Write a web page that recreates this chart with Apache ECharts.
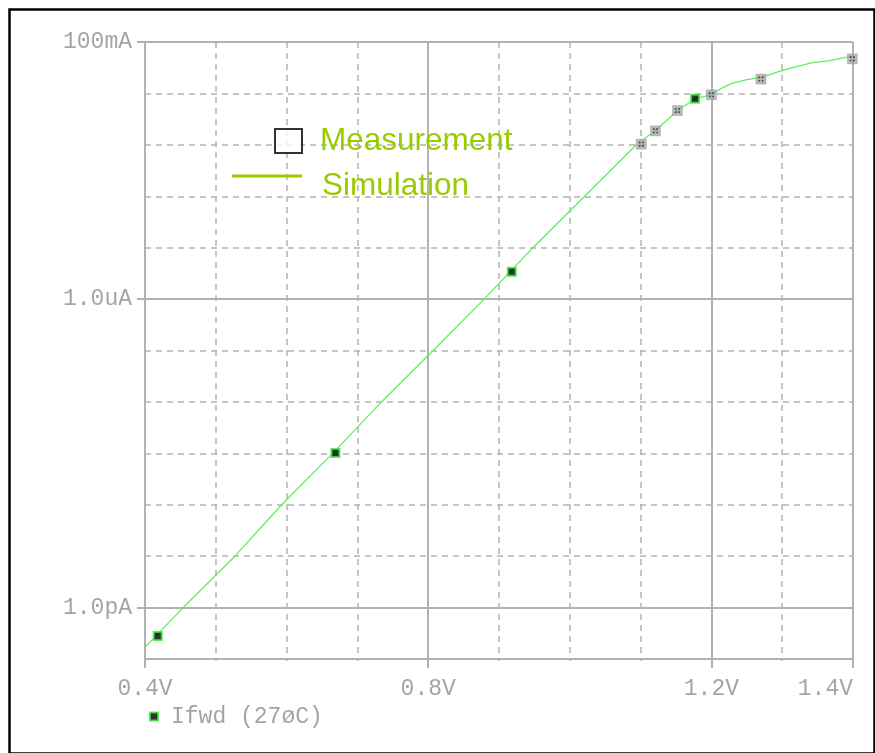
<!DOCTYPE html>
<html>
<head>
<meta charset="utf-8">
<script src="https://cdn.jsdelivr.net/npm/echarts@6/dist/echarts.min.js"></script>
<style>
  html, body { margin: 0; padding: 0; background: #fff; }
  #chart { width: 875px; height: 753px; }
</style>
</head>
<body>
<div id="chart"></div>
<script>
// Forward current of the diode versus forward voltage, current on a log scale.

// Simulated trace (volts, amps)
const simVolts = [0.400, 0.454, 0.527, 0.593, 0.665, 0.734, 0.807, 0.879, 0.948, 1.021,
                  1.094, 1.121, 1.152, 1.177, 1.200, 1.216, 1.228, 1.250, 1.271, 1.297,
                  1.320, 1.343, 1.367, 1.400];
const simAmps  = [1.7e-13, 1e-12, 1e-11, 1e-10, 1e-9, 1e-8, 1e-7, 1e-6, 1e-5, 1e-4,
                  1e-3, 1.9e-3, 4.6e-3, 7.9e-3, 9.4e-3, 1.3e-2, 1.55e-2, 1.85e-2, 2.06e-2, 2.7e-2,
                  3.31e-2, 3.96e-2, 4.34e-2, 5.35e-2];

// Trace markers of Ifwd
const traceVolts = [0.418, 0.669, 0.918, 1.177];
const traceAmps  = [2.8e-13, 1.02e-9, 3.4e-6, 7.9e-3];

// Measured points
const measVolts = [1.101, 1.121, 1.152, 1.200, 1.270, 1.399];
const measAmps  = [1.03e-3, 1.87e-3, 4.65e-3, 9.4e-3, 1.9e-2, 4.7e-2];

// Axis tick labels
const xTickValues = [0.4, 0.8, 1.2, 1.4];
const xTickLabels = ['0.4V', '0.8V', '1.2V', '1.4V'];
const yTickDecades = [-12, -6, -1];
const yTickLabels  = ['1.0pA', '1.0uA', '100mA'];

const traceName = 'Ifwd (27\u00f8C)';

// The current axis is laid out in decades: values are mapped to log10(amps).
const toPoints = (vs, is) => vs.map((v, i) => [v, Math.log10(is[i])]);

const GRID = '#b2b2b2';
const LABEL = '#a4a4a4';
const MONO = '"Liberation Mono", "DejaVu Sans Mono", monospace';
const SANS = '"Liberation Sans", Arial, sans-serif';
const NOTE = '#99cc00';

const chart = echarts.init(document.getElementById('chart'), null, { renderer: 'canvas' });

chart.setOption({
  backgroundColor: '#fff',
  animation: false,
  grid: { left: 145, right: 22, top: 42, bottom: 94, containLabel: false },
  xAxis: [
    {
      type: 'value', min: 0.4, max: 1.4, interval: 0.1, position: 'bottom',
      axisLine: { show: true, onZero: false, lineStyle: { color: GRID, width: 2 } },
      axisTick: { show: true, length: 2, lineStyle: { color: GRID, width: 1.5 } },
      axisLabel: { show: false },
      splitLine: { show: true, lineStyle: { color: GRID, width: 1.5, type: [6, 5] } }
    },
    {
      type: 'value', min: 0.4, max: 1.4, position: 'bottom',
      axisLine: { show: false, onZero: false },
      axisTick: { show: true, length: 9, customValues: xTickValues,
                  lineStyle: { color: GRID, width: 2 } },
      axisLabel: {
        show: true, customValues: xTickValues, margin: 18,
        formatter: v => xTickLabels[xTickValues.findIndex(t => Math.abs(t - v) < 1e-6)] || '',
        color: LABEL, fontFamily: MONO, fontSize: 23, alignMaxLabel: 'right'
      },
      splitLine: { show: true, lineStyle: { color: GRID, width: 2, type: 'solid' } }
    }
  ],
  yAxis: [
    {
      type: 'value', min: -13, max: -1, interval: 1, position: 'left',
      axisLine: { show: true, onZero: false, lineStyle: { color: GRID, width: 2 } },
      axisTick: { show: false },
      axisLabel: { show: false },
      splitLine: { show: true, lineStyle: { color: GRID, width: 1.5, type: [6, 5] } }
    },
    {
      type: 'value', min: -13, max: -1, position: 'left',
      axisLine: { show: false, onZero: false },
      axisTick: { show: true, length: 8, customValues: yTickDecades,
                  lineStyle: { color: GRID, width: 2 } },
      axisLabel: {
        show: true, customValues: yTickDecades, margin: 13,
        formatter: v => yTickLabels[yTickDecades.indexOf(Math.round(v))] || '',
        color: LABEL, fontFamily: MONO, fontSize: 23
      },
      splitLine: { show: true, lineStyle: { color: GRID, width: 2, type: 'solid' } }
    }
  ],
  legend: [
    {
      data: [{ name: traceName, icon: 'rect',
               itemStyle: { color: '#000', borderColor: '#33ee33', borderWidth: 2 } }],
      left: 149, top: 705, padding: 0, itemWidth: 8, itemHeight: 8,
      selectedMode: false,
      textStyle: { color: LABEL, fontFamily: MONO, fontSize: 23, padding: [0, 0, 0, 8] }
    },
    {
      data: [{ name: 'Measurement', icon: 'rect',
               itemStyle: { color: '#fff', borderColor: '#000', borderWidth: 2 } }],
      left: 274, top: 125, padding: 0, itemWidth: 27, itemHeight: 24,
      selectedMode: false,
      textStyle: { color: NOTE, fontFamily: SANS, fontSize: 31.5, padding: [0, 0, 0, 13] }
    },
    {
      data: [{ name: 'Simulation', icon: 'rect', itemStyle: { color: NOTE, borderWidth: 0 } }],
      left: 232, top: 170, padding: 0, itemWidth: 70, itemHeight: 3,
      selectedMode: false,
      formatter: name => '{s|' + name + '}',
      textStyle: {
        color: NOTE, fontFamily: SANS, fontSize: 31.5,
        rich: { s: { color: NOTE, fontFamily: SANS, fontSize: 31.5, padding: [20, 0, 0, 15] } }
      }
    }
  ],
  series: [
    {
      name: 'Simulation', type: 'line', xAxisIndex: 0, yAxisIndex: 0,
      data: toPoints(simVolts, simAmps),
      symbol: 'none', smooth: false,
      lineStyle: { color: '#5cf05c', width: 1.3 },
      z: 3
    },
    {
      name: 'Measurement', type: 'scatter', xAxisIndex: 0, yAxisIndex: 0,
      data: toPoints(measVolts, measAmps),
      symbol: 'rect', symbolSize: 10,
      itemStyle: { color: '#a6a6a6', borderColor: '#9a9a9a', borderWidth: 0.5 },
      z: 4
    },
    {
      name: 'Measurement pattern', type: 'scatter', xAxisIndex: 0, yAxisIndex: 0,
      data: toPoints(measVolts, measAmps),
      symbol: 'path://M0 0h2v2h-2zM4 0h2v2h-2zM0 4h2v2h-2zM4 4h2v2h-2z',
      symbolSize: 5,
      itemStyle: { color: '#2a2a2a' },
      z: 5
    },
    {
      name: traceName, type: 'scatter', xAxisIndex: 0, yAxisIndex: 0,
      data: toPoints(traceVolts, traceAmps),
      symbol: 'rect', symbolSize: 8,
      itemStyle: { color: '#000', borderColor: '#33ee33', borderWidth: 2 },
      z: 6
    }
  ],
  graphic: [
    {
      type: 'rect', left: 7, top: 7, silent: true,
      shape: { x: 0, y: 0, width: 865, height: 744 },
      style: { fill: null, stroke: '#000', lineWidth: 2.5 }
    }
  ]
});
</script>
</body>
</html>
